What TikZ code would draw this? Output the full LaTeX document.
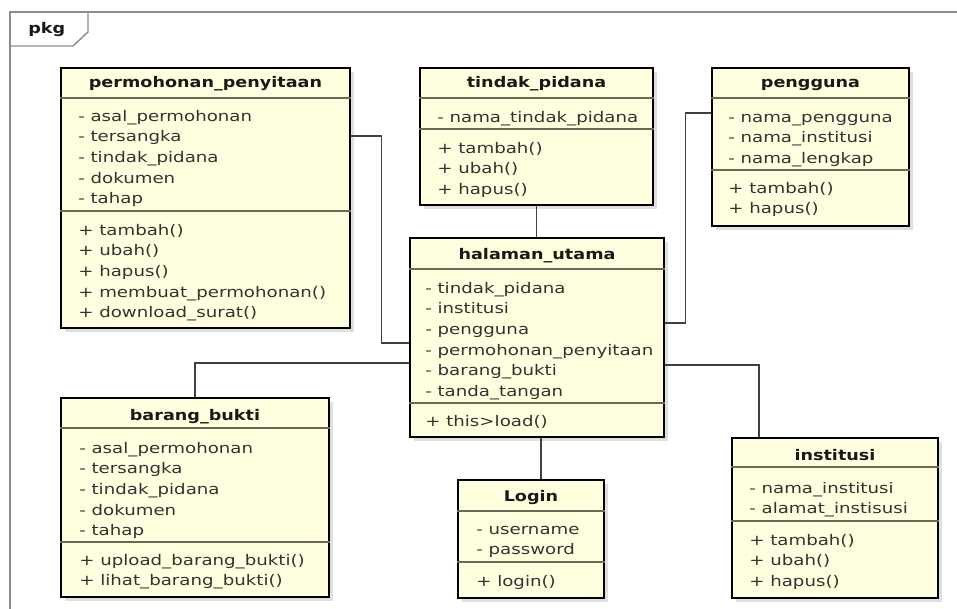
\documentclass[tikz,border=0pt]{standalone}
\usepackage{fontspec}
\newfontfamily\umlfont[FakeStretch=1.24]{DejaVu Sans}
\newfontfamily\umlbold[FakeStretch=1.2]{DejaVu Sans Bold}
\usetikzlibrary{fit, shadows}

\definecolor{umlfill}{RGB}{255,255,224}
\definecolor{umlframe}{RGB}{140,140,140}
\definecolor{umlsep}{RGB}{105,105,90}

\begin{document}
\begin{tikzpicture}[x=0.75pt, y=-0.75pt,
    cls/.style={draw=black, line width=2.2pt, fill=umlfill, inner sep=0pt,
      drop shadow={shadow xshift=3pt, shadow yshift=-3pt, opacity=0.25}},
    sep/.style={draw=umlsep, line width=1.2pt},
    ctitle/.style={anchor=base, inner sep=0pt, text=black!90,
      font=\umlbold\fontsize{11pt}{12pt}\selectfont},
    member/.style={anchor=north west, inner sep=0pt, align=left, text=black!80,
      font=\umlfont\fontsize{11pt}{15.5pt}\selectfont},
    link/.style={draw=black!75, line width=1.2pt},
    frame/.style={draw=umlframe, line width=1.1pt}]
  \useasboundingbox (0,0) rectangle (957,609);
  % package frame
  \draw[frame] (957,12) -- (10,12) -- (10,609);
  \draw[frame] (10,12) -- (88,12) -- (88,32) -- (73,46) -- (10,46);
  \node[ctitle, anchor=base west] (pkg) at (28,34) {pkg};

  % classes
  \node[cls, fit={(61,68) (350,328)}] (perm) {};
  \node[cls, fit={(420,68) (653,205)}] (tindak) {};
  \node[cls, fit={(712,68) (909,226)}] (peng) {};
  \node[cls, fit={(410,238) (664,437)}] (hal) {};
  \node[cls, fit={(61,398) (329,597)}] (bar) {};
  \node[cls, fit={(458,480) (604,598)}] (login) {};
  \node[cls, fit={(732,438) (938,598)}] (inst) {};

  % compartments
  \draw[sep] (perm.west |- 0,98) -- (perm.east |- 0,98);
  \draw[sep] (perm.west |- 0,211) -- (perm.east |- 0,211);
  \draw[sep] (tindak.west |- 0,98) -- (tindak.east |- 0,98);
  \draw[sep] (tindak.west |- 0,129) -- (tindak.east |- 0,129);
  \draw[sep] (peng.west |- 0,98) -- (peng.east |- 0,98);
  \draw[sep] (peng.west |- 0,170) -- (peng.east |- 0,170);
  \draw[sep] (hal.west |- 0,269) -- (hal.east |- 0,269);
  \draw[sep] (hal.west |- 0,403) -- (hal.east |- 0,403);
  \draw[sep] (bar.west |- 0,428) -- (bar.east |- 0,428);
  \draw[sep] (bar.west |- 0,542) -- (bar.east |- 0,542);
  \draw[sep] (login.west |- 0,511) -- (login.east |- 0,511);
  \draw[sep] (login.west |- 0,562) -- (login.east |- 0,562);
  \draw[sep] (inst.west |- 0,467) -- (inst.east |- 0,467);
  \draw[sep] (inst.west |- 0,521) -- (inst.east |- 0,521);

  % permohonan_penyitaan
  \node[ctitle] (permT) at (perm.north |- 0,88) {permohonan\_penyitaan};
  \node[member] (permA) at (78,106.5) {\strut- asal\_permohonan\\- tersangka\\- tindak\_pidana\\- dokumen\\- tahap};
  \node[member] (permO) at (78,220.5) {\strut+ tambah()\\+ ubah()\\+ hapus()\\+ membuat\_permohonan()\\+ download\_surat()};

  % tindak_pidana
  \node[ctitle] (tindakT) at (tindak.north |- 0,88) {tindak\_pidana};
  \node[member] (tindakA) at (437,107.5) {\strut- nama\_tindak\_pidana};
  \node[member] (tindakO) at (437,138.5) {\strut+ tambah()\\+ ubah()\\+ hapus()};

  % pengguna
  \node[ctitle] (pengT) at (peng.north |- 0,88) {pengguna};
  \node[member] (pengA) at (728,107.5) {\strut- nama\_pengguna\\- nama\_institusi\\- nama\_lengkap};
  \node[member] (pengO) at (728,178.5) {\strut+ tambah()\\+ hapus()};

  % halaman_utama
  \node[ctitle] (halT) at (hal.north |- 0,260) {halaman\_utama};
  \node[member] (halA) at (425,278.5) {\strut- tindak\_pidana\\- institusi\\- pengguna\\- permohonan\_penyitaan\\- barang\_bukti\\- tanda\_tangan};
  \node[member] (halO) at (425,411.5) {\strut+ this>load()};

  % barang_bukti
  \node[ctitle] (barT) at (bar.north |- 0,421) {barang\_bukti};
  \node[member] (barA) at (79,438.5) {\strut- asal\_permohonan\\- tersangka\\- tindak\_pidana\\- dokumen\\- tahap};
  \node[member] (barO) at (79,550.5) {\strut+ upload\_barang\_bukti()\\+ lihat\_barang\_bukti()};

  % Login
  \node[ctitle] (loginT) at (login.north |- 0,501) {Login};
  \node[member] (loginA) at (476,519.5) {\strut- username\\- password};
  \node[member] (loginO) at (476,571.5) {\strut+ login()};

  % institusi
  \node[ctitle] (instT) at (inst.north |- 0,461) {institusi};
  \node[member] (instA) at (749,478.5) {\strut- nama\_institusi\\- alamat\_instisusi};
  \node[member] (instO) at (749,530.5) {\strut+ tambah()\\+ ubah()\\+ hapus()};

  % associations
  \draw[link] (perm.east |- 0,136) -- ++(30,0) |- (hal.west |- 0,343);
  \draw[link] (tindak.south) -- (tindak.south |- hal.north);
  \draw[link] (peng.west |- 0,113) -- ++(-25,0) |- (hal.east |- 0,323);
  \draw[link] (bar.north) |- (hal.west |- 0,363);
  \draw[link] (hal.east |- 0,365) -| (inst.north -| 759,0);
  \draw[link] (hal.south -| 541,0) -- (login.north -| 541,0);
\end{tikzpicture}
\end{document}
